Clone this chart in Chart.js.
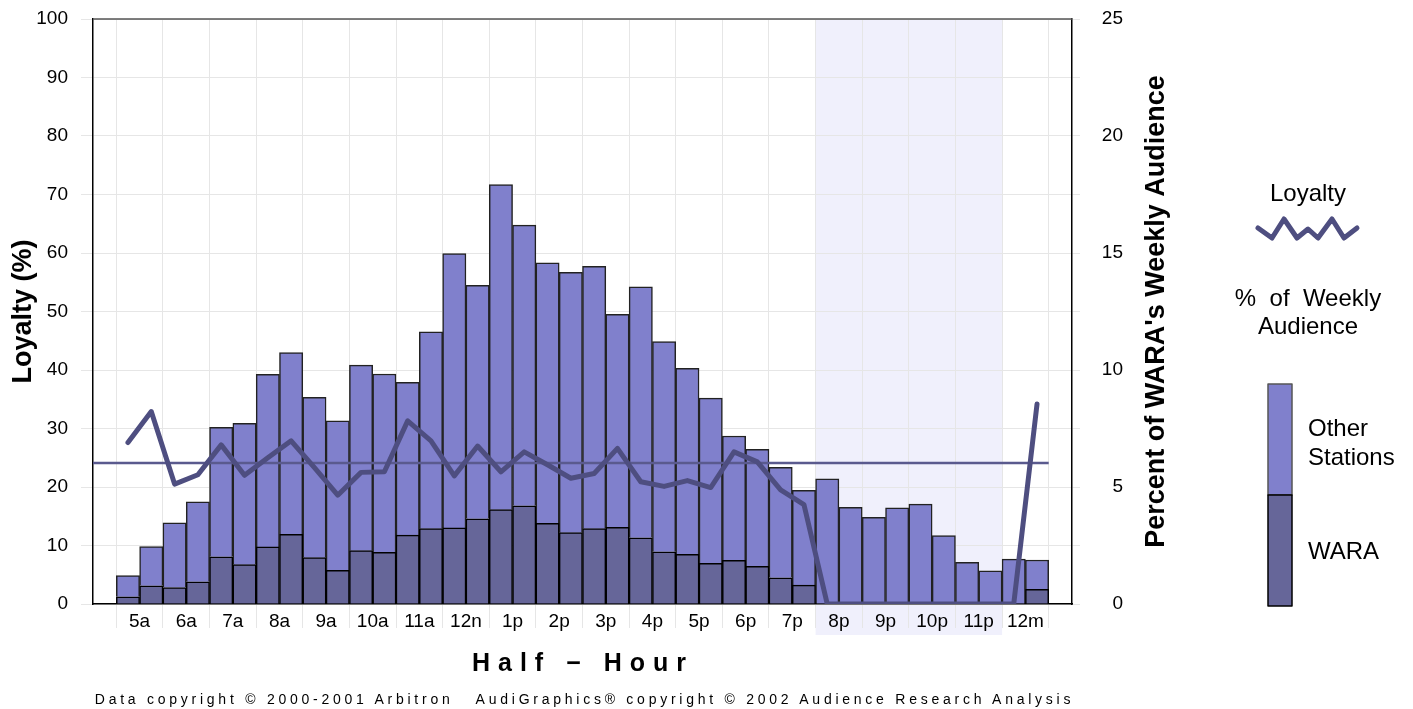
<!DOCTYPE html>
<html>
<head>
<meta charset="utf-8">
<script src="https://cdn.jsdelivr.net/npm/chart.js@4.4.1/dist/chart.umd.min.js"></script>
<style>
  body { margin: 0; background: #fff; }
  #wrap { position: relative; width: 1413px; height: 709px; font-family: "Liberation Sans", Arial, sans-serif; }
  #xtitle { position: absolute; left: 383px; width: 400px; top: 650px; text-align: center;
            font: bold 25px/25px "Liberation Sans", Arial, sans-serif; letter-spacing: 8px; color: #000; white-space: pre; }
  #footer { position: absolute; left: 93px; width: 983px; top: 692px; text-align: center;
            font: 14px/14px "Liberation Sans", Arial, sans-serif; letter-spacing: 3.75px; color: #000; white-space: pre; }
</style>
</head>
<body>
<div id="wrap">
  <canvas id="myChart" width="1413" height="709"></canvas>
  <div id="xtitle">Half − Hour</div>
  <div id="footer">Data copyright © 2000-2001 Arbitron   AudiGraphics® copyright © 2002 Audience Research Analysis</div>
</div>
<script>
// hour labels, one per pair of half-hour bars
var hourLabels = ['5a','6a','7a','8a','9a','10a','11a','12n','1p','2p','3p','4p','5p','6p','7p','8p','9p','10p','11p','12m'];

// % of WARA's weekly audience per half-hour (right axis)
var waraShare = [0.31, 0.78, 0.70, 0.95, 2.02, 1.68, 2.44, 2.98, 1.98, 1.44,
                 2.28, 2.21, 2.94, 3.22, 3.25, 3.64, 4.03, 4.20, 3.45, 3.05,
                 3.22, 3.28, 2.83, 2.23, 2.12, 1.74, 1.87, 1.61, 1.12, 0.81,
                 0, 0, 0, 0, 0, 0, 0, 0, 0, 0.63];
var otherShare = [0.90, 1.67, 2.77, 3.42, 5.53, 6.04, 7.38, 7.76, 6.85, 6.39,
                  7.93, 7.62, 6.53, 8.41, 11.72, 9.98, 13.89, 11.99, 11.13, 11.12,
                  11.21, 9.10, 10.72, 8.98, 7.95, 7.06, 5.31, 5.00, 4.72, 4.05,
                  5.35, 4.13, 3.70, 4.11, 4.27, 2.92, 1.78, 1.42, 1.92, 1.25];

// loyalty (%) per half-hour (left axis)
var loyalty = [27.6, 32.9, 20.5, 22.1, 27.2, 22.0, 25.0, 27.9, 23.3, 18.6,
               22.5, 22.6, 31.3, 27.9, 21.9, 27.0, 22.6, 26.0, 23.8, 21.5,
               22.3, 26.6, 20.9, 20.1, 21.1, 19.9, 26.0, 24.3, 19.5, 17.0,
               0, 0, 0, 0, 0, 0, 0, 0, 0, 34.2];
var avgLoyalty = 24.1;

// shaded daypart
var shadeFrom = '8p';
var shadeTo = '12m';

var lineColor = '#4e4e80';
var font = '"Liberation Sans", Arial, sans-serif';

// half-hour i sits in slot i+1 of a 42 slot axis, hour h is centred on 2h+2
function slot(i) { return i + 1.5; }
function pts(arr) { return arr.map(function(v, i) { return {x: slot(i), y: v}; }); }

var decor = {
  id: 'decor',
  beforeDraw: function(chart) {
    var ctx = chart.ctx, area = chart.chartArea, sx = chart.scales.x;
    var x0 = sx.getPixelForValue(2 * hourLabels.indexOf(shadeFrom) + 1);
    var x1 = sx.getPixelForValue(2 * hourLabels.indexOf(shadeTo) + 1);
    ctx.save();
    ctx.fillStyle = '#f0f0fc';
    ctx.fillRect(x0, area.top, x1 - x0, area.bottom + 31 - area.top);
    ctx.restore();
  },
  afterDraw: function(chart) {
    var ctx = chart.ctx, area = chart.chartArea;
    ctx.save();
    // top border of the plot
    ctx.strokeStyle = '#555';
    ctx.lineWidth = 1.5;
    ctx.beginPath();
    ctx.moveTo(area.left, area.top);
    ctx.lineTo(area.right, area.top);
    ctx.stroke();

    // axis titles, both read bottom to top
    var midY = (area.top + area.bottom) / 2;
    ctx.fillStyle = '#000';
    ctx.font = 'bold 27px ' + font;
    ctx.textAlign = 'center';
    ctx.textBaseline = 'middle';
    ctx.save();
    ctx.translate(24, midY);
    ctx.rotate(-Math.PI / 2);
    ctx.fillText('Loyalty (%)', 0, 0);
    ctx.restore();
    ctx.save();
    ctx.translate(1157, midY);
    ctx.rotate(-Math.PI / 2);
    ctx.fillText("Percent of WARA's Weekly Audience", 0, 0);
    ctx.restore();

    // legend
    ctx.font = '24px ' + font;
    ctx.textBaseline = 'alphabetic';
    ctx.fillText('Loyalty', 1308, 201);
    ctx.fillText('%  of  Weekly', 1308, 306);
    ctx.fillText('Audience', 1308, 334);
    ctx.textAlign = 'left';
    ctx.fillText('Other', 1308, 436);
    ctx.fillText('Stations', 1308, 465);
    ctx.fillText('WARA', 1308, 559);

    var zig = [[1258, 228], [1272, 238], [1284, 219], [1297, 238], [1308, 229],
               [1318, 238], [1332, 219], [1344, 238], [1357, 228]];
    ctx.strokeStyle = lineColor;
    ctx.lineWidth = 5;
    ctx.lineCap = 'round';
    ctx.lineJoin = 'round';
    ctx.beginPath();
    zig.forEach(function(p, k) { if (k) ctx.lineTo(p[0], p[1]); else ctx.moveTo(p[0], p[1]); });
    ctx.stroke();

    ctx.lineCap = 'butt';
    ctx.fillStyle = '#8080cc';
    ctx.fillRect(1268, 384, 24, 111);
    ctx.strokeStyle = '#555';
    ctx.lineWidth = 1.5;
    ctx.strokeRect(1268, 384, 24, 111);
    ctx.fillStyle = '#666699';
    ctx.fillRect(1268, 495, 24, 111);
    ctx.strokeStyle = '#000';
    ctx.strokeRect(1268, 495, 24, 111);
    ctx.restore();
  }
};

var ctx = document.getElementById('myChart').getContext('2d');
var chart = new Chart(ctx, {
  type: 'bar',
  data: {
    datasets: [
      {
        type: 'line', label: 'Loyalty', data: pts(loyalty), yAxisID: 'y', order: 0,
        borderColor: lineColor, borderWidth: 5, pointRadius: 0, tension: 0,
        borderCapStyle: 'round', borderJoinStyle: 'round'
      },
      {
        type: 'line', label: 'Average', yAxisID: 'y', order: 0,
        data: [{x: 0, y: avgLoyalty}, {x: 41, y: avgLoyalty}],
        borderColor: '#5a5a8e', borderWidth: 2.5, pointRadius: 0
      },
      {
        label: 'WARA', data: pts(waraShare), yAxisID: 'y2', stack: 'aud', order: 1,
        backgroundColor: '#666699', borderColor: '#000', borderWidth: 1.5,
        barPercentage: 1, categoryPercentage: 1
      },
      {
        label: 'Other Stations', data: pts(otherShare), yAxisID: 'y2', stack: 'aud', order: 1,
        backgroundColor: '#8080cc', borderColor: '#222', borderWidth: 1.5,
        barPercentage: 1, categoryPercentage: 1
      }
    ]
  },
  options: {
    responsive: false,
    animation: false,
    devicePixelRatio: 1,
    layout: { padding: { top: 0, left: 0, right: 290, bottom: 0 } },
    plugins: { legend: { display: false }, tooltip: { enabled: false } },
    scales: {
      x: {
        type: 'linear', min: 0, max: 42, offset: false,
        afterFit: function(s) { s.height = 105; },
        border: { display: true, color: '#000', width: 1.5 },
        grid: {
          offset: false, tickLength: 24, lineWidth: 1,
          color: function(c) { return c.tick && c.tick.value % 2 === 1 ? '#e6e6e6' : 'rgba(0,0,0,0)'; }
        },
        ticks: {
          stepSize: 1, autoSkip: false, maxRotation: 0, padding: -18,
          color: '#000', font: { family: font, size: 19 },
          callback: function(v) {
            if (v % 2 === 0 && v >= 2 && v <= 40) return hourLabels[(v - 2) / 2];
            return '';
          }
        }
      },
      y: {
        position: 'left', min: 0, max: 100,
        afterFit: function(s) { s.width = 93; s.paddingTop = 19; },
        border: { display: true, color: '#000', width: 1.5 },
        grid: { color: '#e6e6e6', tickLength: 12 },
        ticks: { stepSize: 10, padding: 13, color: '#000', font: { family: font, size: 19 } }
      },
      y2: {
        position: 'right', min: 0, max: 25, stacked: true,
        afterFit: function(s) { s.width = 51; s.paddingTop = 19; },
        border: { display: true, color: '#000', width: 1.5 },
        grid: { drawOnChartArea: false, color: '#e6e6e6', tickLength: 8 },
        ticks: {
          stepSize: 2.5, padding: 10, crossAlign: 'far', color: '#000',
          font: { family: font, size: 19 },
          callback: function(v) { return v % 5 === 0 ? v : ''; }
        }
      }
    }
  },
  plugins: [decor]
});
</script>
</body>
</html>
